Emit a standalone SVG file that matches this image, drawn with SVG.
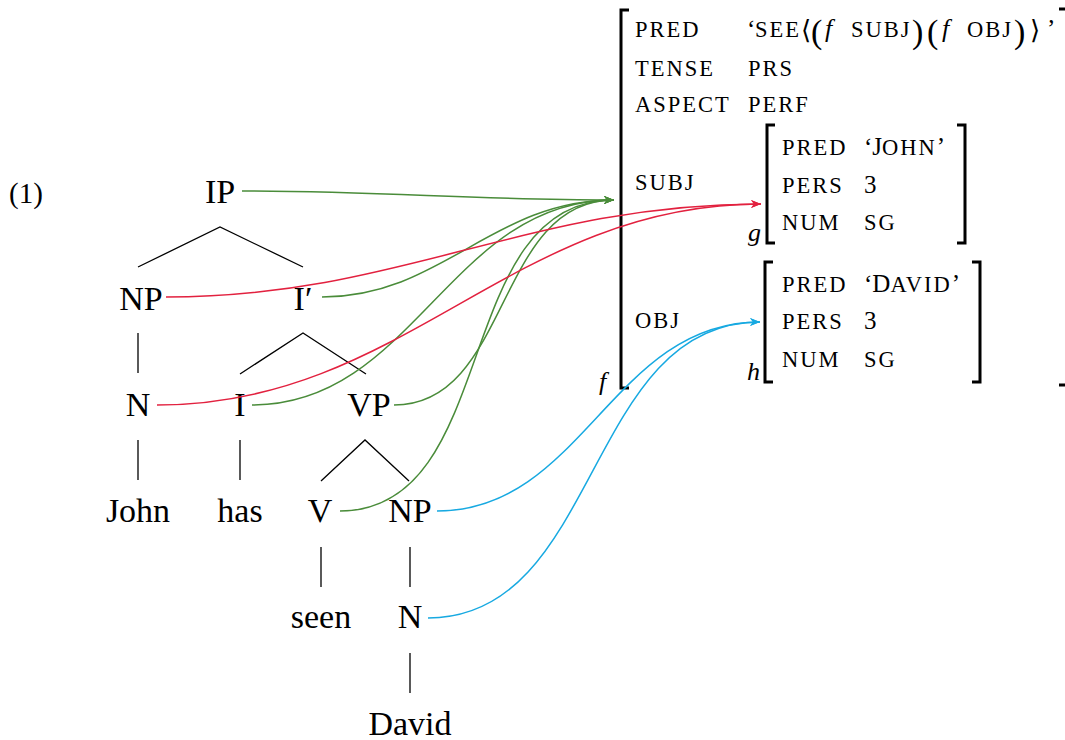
<svg xmlns="http://www.w3.org/2000/svg" width="1065" height="740" viewBox="0 0 1065 740">
  <style>
    text { font-family: "Liberation Serif", "DejaVu Serif", serif; fill: #000; }
    .t { font-size: 34px; text-anchor: middle; }
    .sc { font-size: 22.5px; letter-spacing: 2px; }
    .v { font-size: 25px; }
    .it { font-style: italic; font-size: 26px; }
    .par { font-size: 34px; }
    .ang { font-family: "DejaVu Serif", serif; font-size: 26px; }
    .edge { stroke: #000; stroke-width: 1.3; fill: none; }
    .brk { stroke: #000; stroke-width: 3; fill: none; }
    .cg { stroke: #4a8c3a; stroke-width: 1.5; fill: none; marker-end: url(#ag); }
    .cr { stroke: #e2213f; stroke-width: 1.5; fill: none; marker-end: url(#ar); }
    .cb { stroke: #17a9e1; stroke-width: 1.5; fill: none; marker-end: url(#ab); }
  </style>
  <defs>
    <marker id="ag" markerUnits="userSpaceOnUse" markerWidth="12" markerHeight="10" refX="10" refY="4" orient="auto">
      <path d="M0,0 L10,4 L0,8 L3,4 Z" fill="#4a8c3a"/>
    </marker>
    <marker id="ar" markerUnits="userSpaceOnUse" markerWidth="12" markerHeight="10" refX="10" refY="4" orient="auto">
      <path d="M0,0 L10,4 L0,8 L3,4 Z" fill="#e2213f"/>
    </marker>
    <marker id="ab" markerUnits="userSpaceOnUse" markerWidth="12" markerHeight="10" refX="10" refY="4" orient="auto">
      <path d="M0,0 L10,4 L0,8 L3,4 Z" fill="#17a9e1"/>
    </marker>
  </defs>

  <!-- example number -->
  <text x="9" y="203" font-size="29">(1)</text>

  <!-- tree branches -->
  <g id="tree-edges">
    <path class="edge" d="M138,267 L220,227 L303,267"/>
    <path class="edge" d="M138,333 V373"/>
    <path class="edge" d="M240,374 L303,333 L366,374"/>
    <path class="edge" d="M138,440 V480"/>
    <path class="edge" d="M240,440 V480"/>
    <path class="edge" d="M321,481 L365,440 L409,481"/>
    <path class="edge" d="M321,547 V587"/>
    <path class="edge" d="M410,547 V587"/>
    <path class="edge" d="M410,653 V693"/>
  </g>

  <!-- tree nodes -->
  <g id="n-IP"><text class="t" x="220" y="203">IP</text></g>
  <g id="n-NP-subj"><text class="t" x="141" y="310">NP</text></g>
  <g id="n-Ibar"><text class="t" x="303" y="310">I′</text></g>
  <g id="n-N-subj"><text class="t" x="138" y="416">N</text></g>
  <g id="n-I"><text class="t" x="240" y="416">I</text></g>
  <g id="n-VP"><text class="t" x="369" y="416">VP</text></g>
  <g id="n-John"><text class="t" x="138" y="522">John</text></g>
  <g id="n-has"><text class="t" x="240" y="522">has</text></g>
  <g id="n-V"><text class="t" x="320" y="522">V</text></g>
  <g id="n-NP-obj"><text class="t" x="410" y="522">NP</text></g>
  <g id="n-seen"><text class="t" x="321" y="628">seen</text></g>
  <g id="n-N-obj"><text class="t" x="410" y="628">N</text></g>
  <g id="n-David"><text class="t" x="410" y="735">David</text></g>

  <!-- outer f-structure -->
  <g id="fs-f">
    <path class="brk" d="M629,10 H621 V388 H629"/>
    <path class="brk" d="M1059,9 H1069 V385 H1059"/>
    <text class="it" x="599" y="390">f</text>
    <text class="sc" x="635" y="37">PRED</text>
    <text class="sc" x="635" y="76">TENSE</text>
    <text class="sc" x="635" y="112">ASPECT</text>
    <text class="sc" x="635" y="190">SUBJ</text>
    <text class="sc" x="635" y="328">OBJ</text>
    <text y="37">
      <tspan class="v" x="747">‘</tspan><tspan class="sc" x="755">SEE</tspan><tspan class="ang" x="801" y="39">⟨</tspan><tspan class="par" x="811" y="43">(</tspan><tspan class="it" x="825" y="37">f</tspan><tspan class="sc" x="851">SUBJ</tspan><tspan class="par" x="912" y="43">)</tspan><tspan class="par" x="927">(</tspan><tspan class="it" x="942" y="37">f</tspan><tspan class="sc" x="967">OBJ</tspan><tspan class="par" x="1014" y="43">)</tspan><tspan class="ang" x="1030" y="39">⟩</tspan><tspan class="v" x="1047" y="37">’</tspan>
    </text>
    <text class="sc" x="748" y="76">PRS</text>
    <text class="sc" x="748" y="112">PERF</text>
  </g>

  <!-- subject f-structure -->
  <g id="fs-g">
    <path class="brk" d="M775,125 H767 V243 H775"/>
    <path class="brk" d="M957,125 H965 V243 H957"/>
    <text class="it" x="748" y="241">g</text>
    <text class="sc" x="782" y="155">PRED</text>
    <text class="sc" x="782" y="193">PERS</text>
    <text class="sc" x="782" y="230">NUM</text>
    <text x="864" y="155"><tspan class="v">‘J</tspan><tspan class="sc">OHN</tspan><tspan class="v">’</tspan></text>
    <text class="v" x="864" y="193">3</text>
    <text class="sc" x="864" y="230">SG</text>
  </g>

  <!-- object f-structure -->
  <g id="fs-h">
    <path class="brk" d="M773,262 H765 V382 H773"/>
    <path class="brk" d="M972,262 H980 V382 H972"/>
    <text class="it" x="747" y="380">h</text>
    <text class="sc" x="782" y="292">PRED</text>
    <text class="sc" x="782" y="329">PERS</text>
    <text class="sc" x="782" y="367">NUM</text>
    <text x="864" y="292"><tspan class="v">‘D</tspan><tspan class="sc">AVID</tspan><tspan class="v">’</tspan></text>
    <text class="v" x="864" y="329">3</text>
    <text class="sc" x="864" y="367">SG</text>
  </g>

  <!-- c- to f-structure mapping -->
  <g id="connectors">
    <path class="cg" d="M242,191 C387,191 467,200 614,200"/>
    <path class="cg" d="M322,297 C442,297 492,200 614,200"/>
    <path class="cg" d="M252,405 C414,405 450,200 614,200"/>
    <path class="cg" d="M394,405 C511,405 495,200 614,200"/>
    <path class="cg" d="M340,511 C502,511 450,200 614,200"/>
    <path class="cr" d="M166,297 C401,297 525,204 761,204"/>
    <path class="cr" d="M157,405 C406,405 511,204 761,204"/>
    <path class="cb" d="M437,511 C583,511 612,322 760,322"/>
    <path class="cb" d="M428,618 C601,618 585,322 760,322"/>
  </g>
</svg>
